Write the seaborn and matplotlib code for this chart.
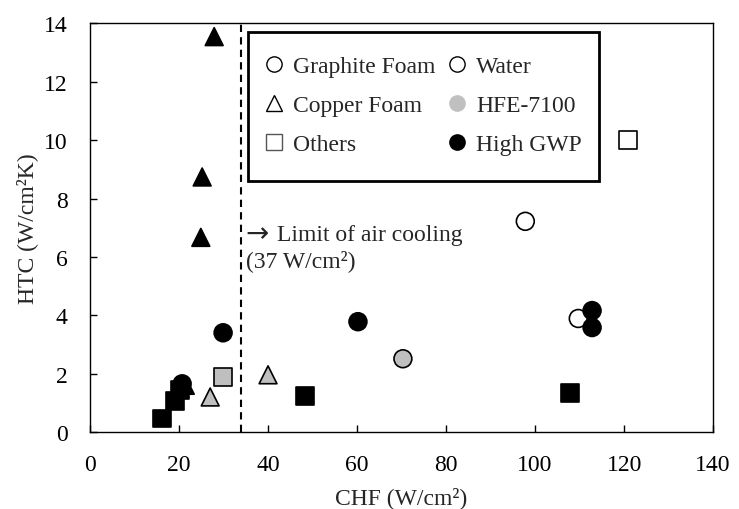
import matplotlib
matplotlib.use("Agg")
import matplotlib.pyplot as plt
from matplotlib.lines import Line2D
from matplotlib.patches import Rectangle
import seaborn as sns
import pandas as pd

# ---- data ----
chf = [97.8, 109.7, 70.3, 29.9, 60.2, 112.8, 112.8, 20.7,
       27.9, 25.2, 24.9, 21.4, 27.0, 40.0,
       120.9, 29.9, 16.2, 19.1, 20.3, 48.3, 107.9]
htc = [7.22, 3.89, 2.51, 3.40, 3.78, 4.16, 3.58, 1.65,
       13.55, 8.74, 6.67, 1.60, 1.20, 1.96,
       10.00, 1.89, 0.46, 1.05, 1.43, 1.24, 1.34]
foam = (["Graphite Foam"] * 8 + ["Copper Foam"] * 6 + ["Others"] * 7)
fluid = ["Water", "Water", "HFE-7100", "High GWP", "High GWP", "High GWP", "High GWP", "High GWP",
         "High GWP", "High GWP", "High GWP", "High GWP", "HFE-7100", "HFE-7100",
         "Water", "HFE-7100", "High GWP", "High GWP", "High GWP", "High GWP", "High GWP"]
foam_labels = ["Graphite Foam", "Copper Foam", "Others"]
fluid_labels = ["Water", "HFE-7100", "High GWP"]
air_limit_x = 34
x_ticks = [0, 20, 40, 60, 80, 100, 120, 140]
y_ticks = [0, 2, 4, 6, 8, 10, 12, 14]

df = pd.DataFrame({"CHF": chf, "HTC": htc, "Foam": foam, "Fluid": fluid})

sns.set_style("white")
plt.rcParams["font.family"] = ["Liberation Serif", "DejaVu Serif"]
plt.rcParams["font.size"] = 17
FS = 17

fig = plt.figure(figsize=(7.39, 5.10), dpi=100)
ax = fig.add_axes([0.1218, 0.151, 0.8432, 0.801])

markers = {"Graphite Foam": "o", "Copper Foam": "^", "Others": "s"}
palette = {"Water": "white", "HFE-7100": "#bfbfbf", "High GWP": "black"}

sns.scatterplot(data=df, x="CHF", y="HTC", hue="Fluid", style="Foam",
                markers=markers, palette=palette, hue_order=fluid_labels,
                style_order=foam_labels, s=165, edgecolor="black",
                linewidth=1.2, legend=False, ax=ax, zorder=3)

ax.axvline(air_limit_x, color="black", linestyle=(0, (3.5, 2.5)), linewidth=1.5, zorder=2)
ax.text(35.0, 6.82, "\u2192", family="DejaVu Sans", fontsize=20, va="center", ha="left")
ax.text(42.0, 6.78, "Limit of air cooling", fontsize=FS, va="center", ha="left")
ax.text(35.0, 5.90, "(37 W/cm\u00b2)", fontsize=FS, va="center", ha="left")

ax.set_xlim(0, 140)
ax.set_ylim(0, 14)
ax.set_xticks(x_ticks)
ax.set_yticks(y_ticks)
ax.tick_params(axis="x", direction="in", length=5, width=1, labelsize=FS, pad=16,
               bottom=True, top=False, colors="black")
ax.tick_params(axis="y", direction="in", length=5, width=1, labelsize=FS, pad=16,
               left=True, right=False, colors="black")
ax.set_xlabel("CHF (W/cm\u00b2)", fontsize=FS, labelpad=8)
ax.set_ylabel("HTC (W/cm\u00b2K)", fontsize=FS, labelpad=4)
for sp in ax.spines.values():
    sp.set_color("black")
    sp.set_linewidth(1.0)

ms = 11
handles = [
    Line2D([], [], marker="o", linestyle="", markersize=ms, markerfacecolor="white",
           markeredgecolor="black", markeredgewidth=1.0),
    Line2D([], [], marker="^", linestyle="", markersize=ms, markerfacecolor="white",
           markeredgecolor="black", markeredgewidth=1.0),
    Line2D([], [], marker="s", linestyle="", markersize=ms, markerfacecolor="white",
           markeredgecolor="#555555", markeredgewidth=1.0),
    Line2D([], [], marker="o", linestyle="", markersize=ms, markerfacecolor="white",
           markeredgecolor="black", markeredgewidth=1.0),
    Line2D([], [], marker="o", linestyle="", markersize=ms, markerfacecolor="#c0c0c0",
           markeredgecolor="#c0c0c0", markeredgewidth=1.0),
    Line2D([], [], marker="o", linestyle="", markersize=ms, markerfacecolor="black",
           markeredgecolor="black", markeredgewidth=1.0),
]
labels = foam_labels + fluid_labels
leg = ax.legend(handles, labels, ncol=2, loc="upper left", bbox_to_anchor=(0.278, 0.921),
                frameon=False, fontsize=FS,
                handlelength=0.9, handletextpad=0.35, columnspacing=0.48,
                labelspacing=0.73, borderpad=0.0, borderaxespad=0.0)
ax.add_patch(Rectangle((0.254, 0.614), 0.563, 0.366, transform=ax.transAxes,
                       fill=True, facecolor="white", edgecolor="black",
                       linewidth=2.0, zorder=4))
leg.set_zorder(5)

fig.savefig("out.png", dpi=100)
